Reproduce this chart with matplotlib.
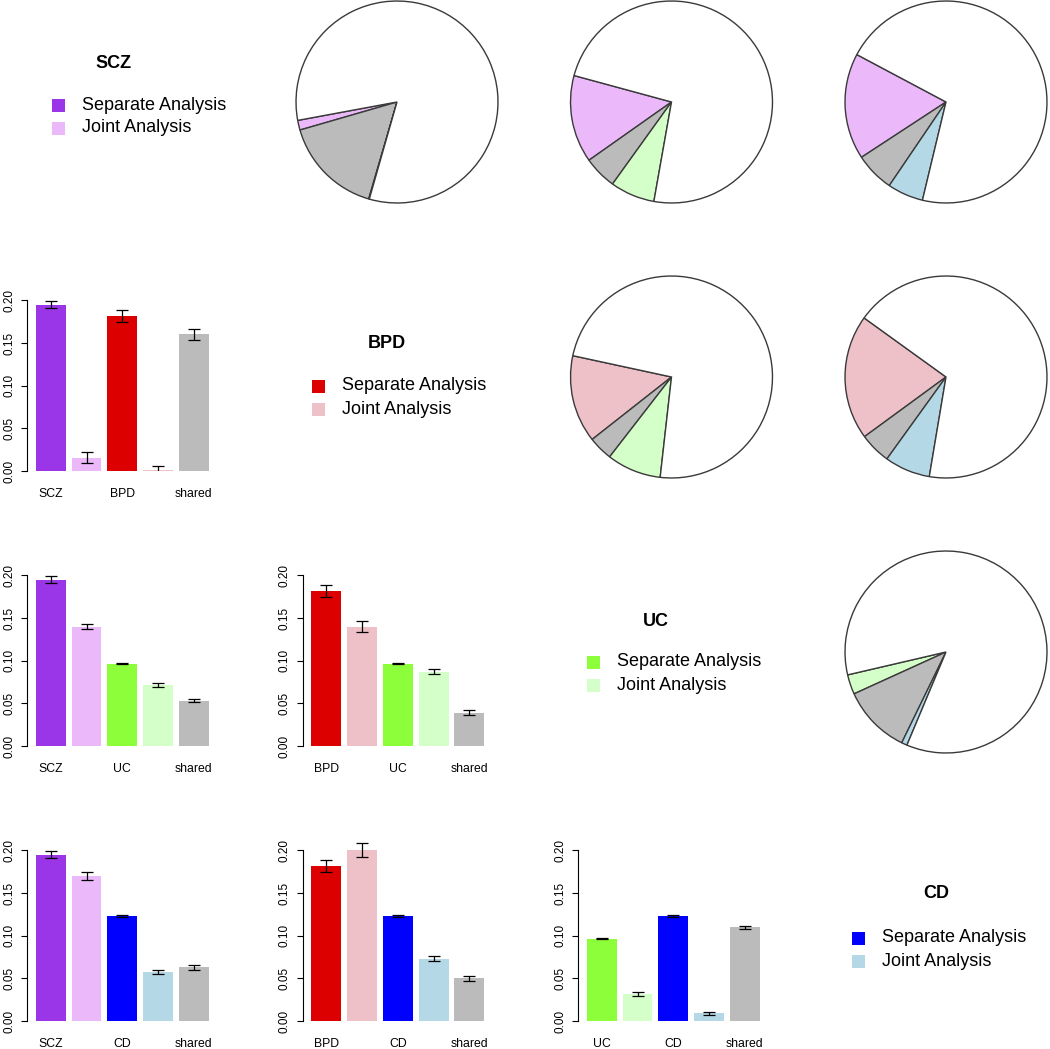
import matplotlib.pyplot as plt
from matplotlib.patches import Rectangle

plt.rcParams['font.family'] = ['Liberation Sans', 'DejaVu Sans']

traits = ['SCZ', 'BPD', 'UC', 'CD']

# separate analysis (same in every panel) and its error
sep = {'SCZ': 0.195, 'BPD': 0.182, 'UC': 0.0963, 'CD': 0.1227}
sep_err = {'SCZ': 0.0037, 'BPD': 0.0072, 'UC': 0.0008, 'CD': 0.001}

# joint analysis per pair: (joint first, joint second, shared)
pairs = [('SCZ', 'BPD'), ('SCZ', 'UC'), ('SCZ', 'CD'),
         ('BPD', 'UC'), ('BPD', 'CD'), ('UC', 'CD')]
joint1 = [0.0156, 0.140, 0.170, 0.140, 0.200, 0.0316]
joint2 = [0.001, 0.0713, 0.0574, 0.087, 0.073, 0.009]
shared = [0.160, 0.053, 0.0629, 0.039, 0.050, 0.1098]
joint1_err = [0.0068, 0.0027, 0.0043, 0.006, 0.008, 0.0023]
joint2_err = [0.005, 0.002, 0.0023, 0.003, 0.003, 0.0015]
shared_err = [0.0068, 0.002, 0.0027, 0.003, 0.003, 0.0015]

# pie start angles (style)
pie_start = [190.5, 164.8, 152, 167.8, 144.2, 193.1]

sep_col = {'SCZ': '#9B35E8', 'BPD': '#DD0000', 'UC': '#8CFF3A', 'CD': '#0000FF'}
joint_col = {'SCZ': '#EBB8FA', 'BPD': '#EEC0C8', 'UC': '#D4FFC8', 'CD': '#B5D8E6'}
shared_col = '#BBBBBB'

W, H = 1050, 1049
fig = plt.figure(figsize=(W / 100, H / 100), dpi=100)


def px_axes(left, top, width, height):
    return fig.add_axes([left / W, 1 - (top + height) / H, width / W, height / H])


pos = [0.7, 1.9, 3.1, 4.3, 5.5]

for k, (a, b) in enumerate(pairs):
    r, c = traits.index(b), traits.index(a)

    # bar panel, lower triangle
    axis_x = 27 + c * 275.5
    y0 = 471 + (r - 1) * 275
    ax = px_axes(axis_x, y0 - 183.5, 190.7, 183.5)
    vals = [sep[a], joint1[k], sep[b], joint2[k], shared[k]]
    errs = [sep_err[a], joint1_err[k], sep_err[b], joint2_err[k], shared_err[k]]
    cols = [sep_col[a], joint_col[a], sep_col[b], joint_col[b], shared_col]
    names = [a, '', b, '', 'shared']
    ax.bar(pos, vals, width=1.0, color=cols, yerr=errs,
           error_kw=dict(ecolor='black', elinewidth=0.9, capsize=4, capthick=0.9))
    ax.set_xlim(-0.1, 6.3)
    ax.set_ylim(0, 0.215)
    for s in ['top', 'right', 'bottom']:
        ax.spines[s].set_visible(False)
    ax.spines['left'].set_bounds(0, 0.2)
    ax.spines['left'].set_linewidth(0.8)
    ax.set_yticks([0, 0.05, 0.10, 0.15, 0.20])
    ax.set_yticklabels(['0.00', '0.05', '0.10', '0.15', '0.20'],
                       rotation=90, va='center', fontsize=8.5)
    ax.tick_params(axis='y', length=4.3, width=0.8, pad=4)
    ax.set_xticks(pos)
    ax.set_xticklabels(names, fontsize=8.8)
    ax.tick_params(axis='x', length=0, pad=12)

    # pie panel, upper triangle
    pr, pc = traits.index(a), traits.index(b)
    cx = 397 + (pc - 1) * 274.5
    cy = 102 + pr * 275
    pax = px_axes(cx - 103, cy - 103, 206, 206)
    parts = [joint1[k], shared[k], joint2[k]]
    parts.append(1 - sum(parts))
    pax.pie(parts, colors=[joint_col[a], shared_col, joint_col[b], 'white'],
            startangle=pie_start[k], counterclock=True,
            wedgeprops=dict(edgecolor='#3a3a3a', linewidth=1.0))
    pax.set_xlim(-1.02, 1.02)
    pax.set_ylim(-1.02, 1.02)

# legends on the diagonal
title_xy = [(114, 63), (387, 343), (656, 621), (936, 893)]
text_xy = [(82, 105), (342, 386), (617, 662), (882, 938)]
for i, t in enumerate(traits):
    tx, ty = title_xy[i]
    fig.text(tx / W, 1 - ty / H, t, fontsize=13, fontweight='bold',
             ha='center', va='center')
    lx, ly = text_xy[i]
    for j, (lab, col) in enumerate([('Separate Analysis', sep_col[t]),
                                     ('Joint Analysis', joint_col[t])]):
        yy = ly + j * 23
        fig.text(lx / W, 1 - yy / H, lab, fontsize=13, ha='left', va='center')
        fig.patches.append(Rectangle(((lx - 30) / W, 1 - (yy + 6.5) / H), 13 / W, 13 / H,
                                     transform=fig.transFigure, facecolor=col,
                                     edgecolor='none'))

fig.savefig('out.png', dpi=100)
